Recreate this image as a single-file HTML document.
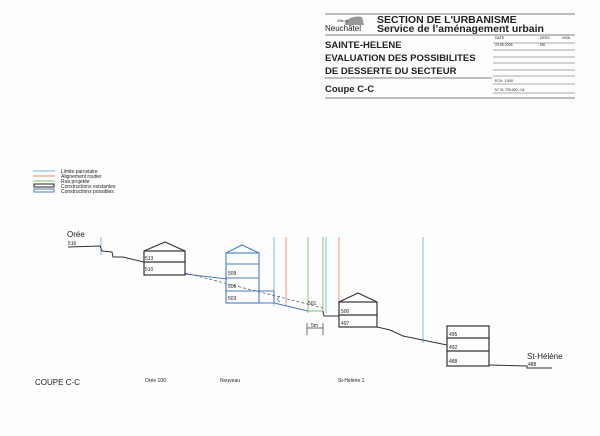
<!DOCTYPE html>
<html><head><meta charset="utf-8"><style>
html,body{margin:0;padding:0;background:#fff;}
svg{display:block;}
text{font-family:"Liberation Sans",sans-serif;fill:#222;}
</style></head><body>
<svg width="600" height="436" viewBox="0 0 600 436" xmlns="http://www.w3.org/2000/svg">
<rect width="600" height="436" fill="#fdfdfd"/>
<!-- title block -->
<g stroke="#555" stroke-width="0.8" fill="none">
<line x1="325" y1="14" x2="575" y2="14"/>
<line x1="325" y1="35" x2="575" y2="35"/>
<line x1="325" y1="78" x2="492" y2="78"/>
<line x1="325" y1="98" x2="575" y2="98"/>
<line x1="493" y1="43" x2="575" y2="43" stroke-width="0.5"/>
<line x1="493" y1="50" x2="575" y2="50" stroke-width="0.5"/>
<line x1="493" y1="57" x2="575" y2="57" stroke-width="0.5"/>
<line x1="493" y1="63" x2="575" y2="63" stroke-width="0.5"/>
<line x1="493" y1="70" x2="575" y2="70" stroke-width="0.5"/>
<line x1="493" y1="76" x2="575" y2="76" stroke-width="0.5"/>
<line x1="493" y1="84" x2="575" y2="84" stroke-width="0.5"/>
<line x1="493" y1="93" x2="575" y2="93" stroke-width="0.5"/>
</g>
<path d="M345 22 Q352 15 362 17 L364 25 L345 25 Z" fill="#999"/>
<text x="337" y="22" font-size="3.5">Ville de</text>
<text x="325" y="31" font-size="8" fill="#333">Neuchâtel</text>
<text x="377" y="23" font-size="10.5" font-weight="bold">SECTION DE L'URBANISME</text>
<text x="377" y="32" font-size="10.5" font-weight="bold">Service de l’aménagement urbain</text>
<text x="325" y="48" font-size="9.5" font-weight="bold">SAINTE-HELENE</text>
<text x="325" y="61" font-size="9.5" font-weight="bold">EVALUATION DES POSSIBILITES</text>
<text x="325" y="74" font-size="9.5" font-weight="bold">DE DESSERTE DU SECTEUR</text>
<text x="325" y="92" font-size="9.5" font-weight="bold">Coupe C-C</text>
<g font-size="3.5"><text x="495" y="39">DATE</text><text x="540" y="39">DESS</text><text x="562" y="39">VISA</text>
<text x="495" y="46">23.09.2005</text><text x="540" y="46">DB</text>
<text x="495" y="82">ECH. 1:500</text><text x="495" y="91">N° 01 733 000 - 04</text></g>
<!-- legend -->
<g stroke-width="1">
<line x1="33" y1="171" x2="55" y2="171" stroke="#6bb8e8"/>
<line x1="33" y1="176" x2="55" y2="176" stroke="#f08a80"/>
<line x1="33" y1="181" x2="55" y2="181" stroke="#7cc06a"/>
<rect x="34" y="184" width="20" height="3" fill="none" stroke="#222"/>
<rect x="34" y="189" width="20" height="3" fill="none" stroke="#4a7ac8"/>
</g>
<g font-size="5" fill="#333"><text x="61" y="173">Limite parcelaire</text><text x="61" y="178">Alignement routier</text><text x="61" y="183">Rue projetée</text><text x="61" y="188">Constructions existantes</text><text x="61" y="193">Constructions possibles</text></g>
<!-- vertical lines -->
<g stroke-width="0.9">
<line x1="101" y1="237" x2="101" y2="255" stroke="#6bb8e8"/>
<line x1="274" y1="237" x2="274" y2="306" stroke="#6bb8e8"/>
<line x1="286" y1="237" x2="286" y2="306" stroke="#f08a80"/>
<line x1="308" y1="237" x2="308" y2="313" stroke="#7cc06a"/>
<line x1="323" y1="237" x2="323" y2="313" stroke="#7cc06a"/>
<line x1="326" y1="237" x2="326" y2="313" stroke="#6bb8e8"/>
<line x1="339" y1="237" x2="339" y2="321" stroke="#f08a80"/>
<line x1="423" y1="237" x2="423" y2="343" stroke="#6bb8e8"/>
</g>
<!-- ground -->
<g fill="none" stroke-width="1">
<polyline points="68,247 100,246 102,251 112,252 113,257 123,257 144,262" stroke="#333"/>
<polyline points="185,274 227,279" stroke="#4a7ac8"/>
<line x1="185" y1="273" x2="323" y2="308" stroke="#555" stroke-dasharray="3,2" stroke-width="0.7"/>
<polyline points="274,303 308,311" stroke="#4a7ac8"/>
<polyline points="308,311 323,311" stroke="#7cc06a"/>
<polyline points="323,311 324,316 339,316" stroke="#333"/>
<polyline points="377,327 390,330 403,336 447,345" stroke="#333"/>
<polyline points="489,365 527,366 527,368 552,368" stroke="#333"/>
</g>
<!-- building 1 -->
<g fill="none" stroke="#333" stroke-width="1.2">
<polyline points="144,251 165,242 185,251"/>
<rect x="144" y="251" width="41" height="24"/>
<line x1="144" y1="262" x2="185" y2="262"/>
</g>
<!-- building 2 -->
<g fill="none" stroke="#4a7ac8" stroke-width="1.1">
<polyline points="226,253 242,245 259,253"/>
<rect x="226" y="253" width="33" height="50"/>
<line x1="226" y1="264" x2="259" y2="264"/>
<line x1="226" y1="278" x2="259" y2="278"/>
<line x1="226" y1="291" x2="274" y2="291"/>
<polyline points="259,303 274,303 274,291"/>
<polyline points="280,296 277,299 280,302" stroke-width="0.7"/>
</g>
<!-- building 3 -->
<g fill="none" stroke="#333" stroke-width="1.2">
<polyline points="339,302 358,293 377,302"/>
<rect x="339" y="302" width="38" height="25"/>
<line x1="339" y1="315" x2="377" y2="315"/>
</g>
<!-- building 4 -->
<g fill="none" stroke="#333" stroke-width="1.2">
<rect x="447" y="326" width="42" height="40"/>
<line x1="447" y1="338" x2="489" y2="338"/>
<line x1="447" y1="351" x2="489" y2="351"/>
</g>
<!-- 5m -->
<g stroke="#333" stroke-width="0.7"><line x1="307" y1="328" x2="323" y2="328"/><line x1="307" y1="323" x2="307" y2="335"/><line x1="323" y1="323" x2="323" y2="335"/></g>
<g font-size="5" fill="#333">
<text x="145" y="260">513</text><text x="145" y="271">510</text>
<text x="228" y="275">509</text><text x="228" y="288">506</text><text x="228" y="300">503</text>
<text x="308" y="305">501</text><text x="311" y="327">5m</text>
<text x="341" y="313">500</text><text x="341" y="325">497</text>
<text x="449" y="336">495</text><text x="449" y="349">492</text><text x="449" y="363">488</text>
<text x="68" y="245">516</text><text x="528" y="366">488</text>
<text x="145" y="382">Orée 106</text><text x="220" y="382">Nouveau</text><text x="338" y="382">St-Hélène 1</text>
</g>
<text x="67" y="237" font-size="8">Orée</text>
<text x="527" y="359" font-size="8">St-Hélène</text>
<text x="35" y="385" font-size="8">COUPE C-C</text>
</svg>
</body></html>
